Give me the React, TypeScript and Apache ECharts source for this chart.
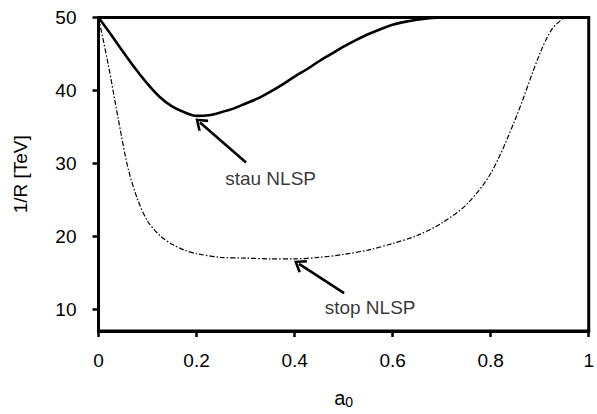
import React, { useEffect, useRef } from "react";
import * as echarts from "echarts";

// a0 values and 1/R [TeV] for the stau NLSP boundary (solid line)
const stauA0 = [0, 0.025, 0.05, 0.075, 0.1, 0.125, 0.15, 0.175, 0.2, 0.225, 0.25, 0.275, 0.3, 0.325, 0.35, 0.375, 0.4, 0.425, 0.45, 0.475, 0.5, 0.525, 0.55, 0.575, 0.6, 0.625, 0.65, 0.675, 0.7, 0.8, 0.9, 1];
const stauValues = [50, 47.7, 45.3, 43.0, 40.9, 39.1, 37.8, 37.0, 36.5, 36.6, 37.0, 37.5, 38.2, 38.9, 39.8, 40.8, 41.9, 42.9, 44.0, 45.0, 46.0, 46.9, 47.7, 48.4, 49.0, 49.4, 49.7, 49.9, 50, 50, 50, 50];

// a0 values and 1/R [TeV] for the stop NLSP boundary (dash-dot line)
const stopA0 = [0, 0.02, 0.04, 0.06, 0.08, 0.1, 0.125, 0.15, 0.175, 0.2, 0.25, 0.3, 0.35, 0.4, 0.45, 0.5, 0.55, 0.6, 0.65, 0.7, 0.75, 0.8, 0.85, 0.9, 0.925, 0.95];
const stopValues = [50, 43.5, 36.2, 29.4, 25.0, 22.1, 20.1, 18.9, 18.1, 17.6, 17.1, 17.0, 16.9, 16.9, 17.1, 17.5, 18.1, 19.0, 20.1, 21.8, 24.3, 28.6, 36.0, 45.0, 48.4, 50];

const yTickValues = [10, 20, 30, 40, 50];

// annotations: [a0, 1/R]
const annotationTexts = ["stau NLSP", "stop NLSP"];
const annotationTextPos = [
  [0.351, 27.9],
  [0.554, 10.2],
];
const arrowFrom = [
  [0.301, 30.1],
  [0.501, 12.2],
];
const arrowTo = [
  [0.207, 35.6],
  [0.409, 16.2],
];

const FONT = "'Liberation Sans', Arial, Helvetica, sans-serif";
const chevron = "path://M8,0 L16,11 L14,13 L8,4.6 L2,13 L0,11 Z";

export default function App() {
  const ref = useRef<HTMLDivElement>(null);
  useEffect(() => {
    document.body.style.margin = "0";
    const chart = echarts.init(ref.current!, null, { renderer: "svg" });
    chart.setOption({
      animation: false,
      grid: {
        show: true,
        left: 98.5,
        right: 5.3,
        top: 17.5,
        bottom: 72,
        borderColor: "#000",
        borderWidth: 3,
        containLabel: false,
      },
      xAxis: {
        type: "value",
        min: 0,
        max: 1,
        interval: 0.2,
        name: "{a|a}{s|0}",
        nameLocation: "middle",
        nameGap: 55,
        nameTextStyle: {
          rich: {
            a: { fontSize: 20, fontFamily: FONT, color: "#000" },
            s: { fontSize: 14, fontFamily: FONT, color: "#000", verticalAlign: "bottom", padding: [9, 0, 0, 0] },
          },
        },
        axisLine: { show: true, lineStyle: { color: "#000", width: 3 } },
        axisTick: { show: true, inside: false, length: 6, lineStyle: { color: "#000", width: 2.5 } },
        axisLabel: { fontSize: 19, fontFamily: FONT, color: "#000", margin: 20 },
        splitLine: { show: false },
      },
      yAxis: {
        type: "value",
        min: 7,
        max: 50,
        name: "1/R [TeV]",
        nameLocation: "middle",
        nameGap: 69,
        nameTextStyle: { fontSize: 19, fontFamily: FONT, color: "#000" },
        axisLine: { show: true, lineStyle: { color: "#000", width: 3 } },
        axisTick: { show: true, inside: false, length: 6, customValues: yTickValues, lineStyle: { color: "#000", width: 2.5 } },
        axisLabel: { fontSize: 19, fontFamily: FONT, color: "#000", margin: 22, customValues: yTickValues },
        splitLine: { show: false },
      },
      series: [
        {
          type: "line",
          data: stopA0.map((x, i) => [x, stopValues[i]]),
          showSymbol: false,
          smooth: 0.3,
          clip: true,
          lineStyle: { color: "#000", width: 1.2, type: [5, 2, 1.5, 2] },
          emphasis: { disabled: true },
          silent: true,
          z: 3,
        },
        {
          type: "line",
          data: stauA0.map((x, i) => [x, stauValues[i]]),
          showSymbol: false,
          smooth: 0.3,
          clip: true,
          lineStyle: { color: "#000", width: 2.6 },
          emphasis: { disabled: true },
          silent: true,
          z: 4,
        },
        {
          type: "line",
          data: [],
          silent: true,
          markLine: {
            silent: true,
            animation: false,
            symbol: ["none", chevron],
            symbolSize: [15, 12],
            lineStyle: { color: "#000", width: 2.6, type: "solid" },
            label: { show: false },
            emphasis: { disabled: true },
            data: arrowFrom.map((f, i) => [{ coord: f }, { coord: arrowTo[i] }]),
          },
        },
        {
          type: "scatter",
          data: annotationTextPos.map((p, i) => [p[0], p[1], annotationTexts[i]]),
          symbolSize: 1,
          itemStyle: { color: "transparent" },
          silent: true,
          label: {
            show: true,
            position: "inside",
            formatter: (p: any) => p.data[2],
            fontSize: 19,
            fontFamily: FONT,
            color: "#000",
          },
        },
      ],
    });
    return () => chart.dispose();
  }, []);
  return <div ref={ref} style={{ width: 597, height: 414 }} />;
}
